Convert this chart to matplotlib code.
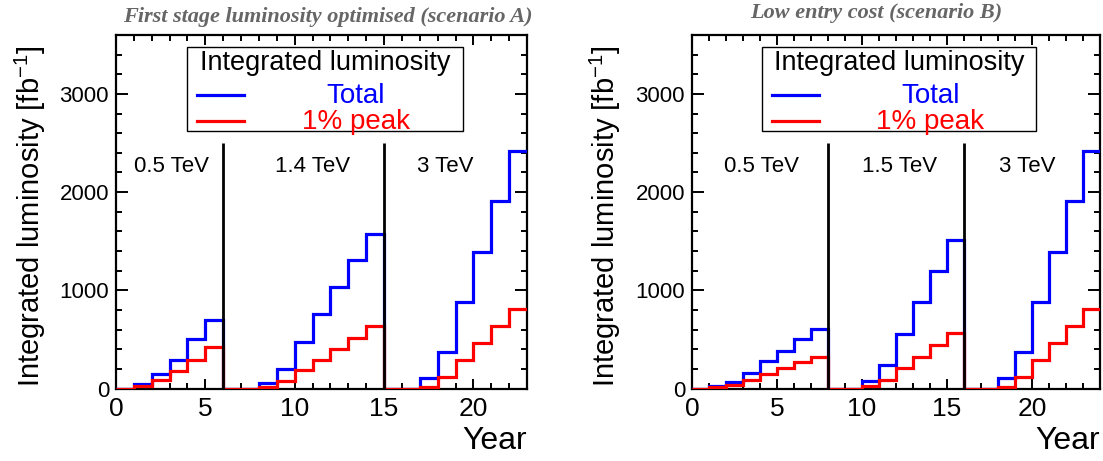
import matplotlib
matplotlib.use("Agg")
import matplotlib.pyplot as plt
from matplotlib.ticker import MultipleLocator
from matplotlib.patches import Rectangle
import numpy as np

plt.rcParams['font.family'] = ['Liberation Sans', 'DejaVu Sans']
plt.rcParams['mathtext.default'] = 'regular'

# ---------------- data ----------------
years_A = np.arange(0, 24)          # bin edges 0..23
total_A = [0, 50, 145, 295, 500, 700,
           0, 0, 54, 194, 472, 755, 1034, 1306, 1578,
           0, 0, 110, 370, 880, 1390, 1908, 2418]
peak_A = [0, 25, 85, 180, 295, 420,
          0, 0, 14, 75, 184, 293, 405, 517, 633,
          0, 0, 20, 115, 292, 466, 635, 806]
stage_ends_A = [6, 15]
stage_labels_A = ['0.5 TeV', '1.4 TeV', '3 TeV']

years_B = np.arange(0, 25)          # bin edges 0..24
total_B = [0, 25, 70, 160, 275, 385, 500, 610,
           0, 0, 75, 240, 560, 880, 1200, 1515,
           0, 0, 110, 372, 881, 1390, 1908, 2418]
peak_B = [0, 12, 40, 85, 145, 210, 270, 325,
          0, 0, 28, 90, 205, 320, 440, 565,
          0, 0, 20, 115, 292, 466, 635, 806]
stage_ends_B = [8, 16]
stage_labels_B = ['0.5 TeV', '1.5 TeV', '3 TeV']

titles = ['First stage luminosity optimised (scenario A)', 'Low entry cost (scenario B)']
legend_title = 'Integrated luminosity'
series_names = ['Total', '1% peak']
ylabel = 'Integrated luminosity [fb$^{-1}$]'
xlabel = 'Year'

W, H = 1103, 461
fig = plt.figure(figsize=(W / 100, H / 100), dpi=100)

def fx(px):
    return px / W

def fy(py):
    return 1 - py / H

ax_top, ax_bot = 35, 388.5
axA = fig.add_axes([fx(116), fy(ax_bot), fx(527) - fx(116), (ax_bot - ax_top) / H])
axB = fig.add_axes([fx(692), fy(ax_bot), fx(1100) - fx(692), (ax_bot - ax_top) / H])

BLUE = '#0000ff'
RED = '#ff0000'

panels = [
    (axA, years_A, total_A, peak_A, stage_ends_A, stage_labels_A, [3.1, 11.0, 18.45], 23),
    (axB, years_B, total_B, peak_B, stage_ends_B, stage_labels_B, [4.1, 12.2, 19.7], 24),
]

for ax, edges, tot, pk, ends, labs, labx, xmax in panels:
    ax.stairs(tot, edges, color=BLUE, lw=2.3, baseline=None, zorder=3)
    ax.stairs(pk, edges, color=RED, lw=2.3, baseline=None, zorder=4)
    ax.vlines(ends, 0, 2500, color='black', lw=2.0, zorder=5)
    for x, t in zip(labx, labs):
        ax.text(x, 2260, t, ha='center', va='center', fontsize=16)
    ax.set_xlim(0, xmax)
    ax.set_ylim(0, 3600)
    ax.xaxis.set_major_locator(MultipleLocator(5))
    ax.xaxis.set_minor_locator(MultipleLocator(1))
    ax.yaxis.set_major_locator(MultipleLocator(1000))
    ax.yaxis.set_minor_locator(MultipleLocator(200))
    ax.tick_params(which='both', direction='in', top=True, right=True, width=1.4)
    ax.tick_params(axis='y', which='major', length=8.5, labelsize=16, pad=5)
    ax.tick_params(axis='y', which='minor', length=4.5)
    ax.tick_params(axis='x', which='major', length=7.5, labelsize=19, pad=6)
    ax.tick_params(axis='x', which='minor', length=4)
    for s in ax.spines.values():
        s.set_linewidth(1.6)

    # legend box
    ax.add_patch(Rectangle((0.172, 0.728), 0.672, 0.238, transform=ax.transAxes,
                           facecolor='white', edgecolor='black', lw=1.0, zorder=6))
    ax.text(0.508, 0.920, legend_title, transform=ax.transAxes, ha='center', va='center',
            fontsize=19.5, zorder=7)
    for yy, name, col in [(0.830, series_names[0], BLUE), (0.757, series_names[1], RED)]:
        ax.plot([0.197, 0.312], [yy, yy], transform=ax.transAxes, color=col, lw=2.3, zorder=7)
        ax.text(0.584, yy - 0.003, name, transform=ax.transAxes, ha='center', va='center',
                fontsize=20, color=col, zorder=7)

# titles
fig.text(fx(328), fy(17), titles[0], ha='center', va='center', fontsize=16,
         family='Liberation Serif', style='italic', weight='bold', color='#666666')
fig.text(fx(876), fy(13), titles[1], ha='center', va='center', fontsize=16,
         family='Liberation Serif', style='italic', weight='bold', color='#666666')

# y labels
fig.text(fx(30), fy(216), ylabel, rotation=90, ha='center', va='center', fontsize=21)
fig.text(fx(605), fy(216), ylabel, rotation=90, ha='center', va='center', fontsize=21)

# x labels
fig.text(fx(527), fy(441), xlabel, ha='right', va='center', fontsize=23)
fig.text(fx(1100), fy(441), xlabel, ha='right', va='center', fontsize=23)

fig.savefig('out.png', dpi=100)
